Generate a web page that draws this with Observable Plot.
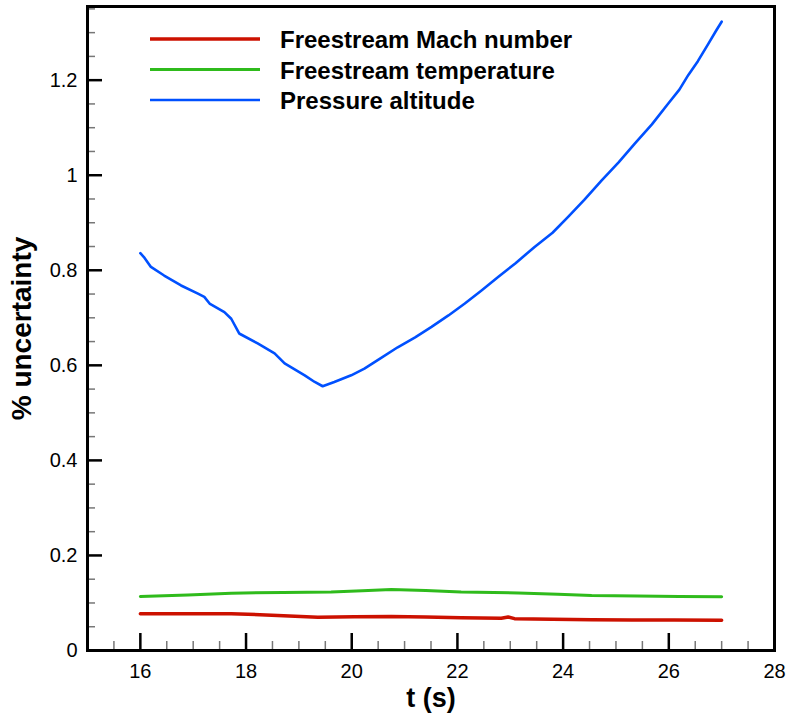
<!DOCTYPE html>
<html>
<head>
<meta charset="utf-8">
<script src="https://cdn.jsdelivr.net/npm/d3@7"></script>
<script src="https://cdn.jsdelivr.net/npm/@observablehq/plot@0.6"></script>
<style>
  body { margin: 0; background: #fff; }
  #chart svg { font-family: "Liberation Sans", Arial, Helvetica, sans-serif; }
  #chart g[aria-label="x-axis label"] { font-size: 27px; font-weight: bold; }
  #chart g[aria-label="y-axis label"] { font-size: 28px; font-weight: bold; }
</style>
</head>
<body>
<div id="chart"></div>
<script>
// Time axis (s) and percent uncertainty for each contributing source
const tMach = [16.0, 16.9, 17.72, 18.6, 19.36, 20.05, 20.75, 21.4, 22.07, 22.83, 22.96, 23.08, 23.8, 24.54, 25.3, 26.1, 27.0];
const uMach = [0.0775, 0.0772, 0.0775, 0.0738, 0.0700, 0.0708, 0.0716, 0.0703, 0.0690, 0.0680, 0.0706, 0.0670, 0.0660, 0.0648, 0.0642, 0.0640, 0.0636];

const tTemp = [16.0, 16.9, 17.72, 18.7, 19.61, 20.2, 20.75, 21.4, 22.07, 23.15, 23.9, 24.54, 25.4, 26.2, 27.0];
const uTemp = [0.1137, 0.1168, 0.1207, 0.1220, 0.1230, 0.1255, 0.1284, 0.1262, 0.1230, 0.1210, 0.1185, 0.1157, 0.1145, 0.1138, 0.1130];

const tAlt = [16.0, 16.08, 16.2, 16.45, 16.77, 17.09, 17.21, 17.31, 17.59, 17.72, 17.87, 18.22, 18.54, 18.73,
  19.11, 19.30, 19.45, 19.67, 19.99, 20.24, 20.55, 20.87, 21.2, 21.51, 21.83, 22.14, 22.45, 22.77, 23.1,
  23.46, 23.8, 24.09, 24.4, 24.73, 25.05, 25.36, 25.68, 25.99, 26.2, 26.37, 26.55, 26.75, 26.9, 27.0];
const uAlt = [0.836, 0.826, 0.807, 0.789, 0.768, 0.751, 0.744, 0.730, 0.712, 0.698, 0.667, 0.646, 0.625, 0.604,
  0.579, 0.565, 0.556, 0.565, 0.579, 0.593, 0.615, 0.638, 0.659, 0.681, 0.705, 0.730, 0.757, 0.786, 0.815,
  0.849, 0.879, 0.912, 0.948, 0.989, 1.027, 1.067, 1.107, 1.151, 1.180, 1.211, 1.240, 1.277, 1.305, 1.323];

const seriesNames = ["Freestream Mach number", "Freestream temperature", "Pressure altitude"];
const seriesColors = ["#cc1100", "#2fbb1c", "#0050ff"];
const seriesWidths = [3.5, 3, 2.6];

const xTicks = [16, 18, 20, 22, 24, 26, 28];
const yTicks = [0, 0.2, 0.4, 0.6, 0.8, 1, 1.2];

const toRows = (ts, us) => ts.map((t, i) => ({t, u: us[i]}));
const series = [toRows(tMach, uMach), toRows(tTemp, uTemp), toRows(tAlt, uAlt)];

const W = 789, H = 715, mL = 87, mR = 15, mT = 6, mB = 65;
const plotW = W - mL - mR, plotH = H - mT - mB;

// minor ticks every 0.5 s and every 0.05 %
const xMinor = d3.range(31, 56).map(k => k / 2).filter(v => v % 2 !== 0);
const yMinor = d3.range(1, 28).map(k => k / 20).filter(v => Math.abs(v * 5 - Math.round(v * 5)) > 1e-9);

const chart = Plot.plot({
  width: W, height: H,
  marginLeft: mL, marginRight: mR, marginTop: mT, marginBottom: mB,
  x: {domain: [15, 28], labelArrow: "none"},
  y: {domain: [0, 1.355], labelArrow: "none"},
  style: {fontSize: "20px", color: "black", background: "white"},
  marks: [
    ...series.map((rows, i) => Plot.line(rows, {
      x: "t", y: "u", stroke: seriesColors[i], strokeWidth: seriesWidths[i],
      strokeLinejoin: "round", strokeLinecap: "round"
    })),
    // inward-pointing ticks
    Plot.tickX(xMinor, {x: d => d, insetTop: plotH - 9, stroke: "#777", strokeWidth: 1.5}),
    Plot.tickX(xTicks, {x: d => d, insetTop: plotH - 17, stroke: "black", strokeWidth: 2.5}),
    Plot.tickY(yMinor, {y: d => d, insetRight: plotW - 8, stroke: "#777", strokeWidth: 1.5}),
    Plot.tickY(yTicks.filter(d => d > 0), {y: d => d, insetRight: plotW - 15, stroke: "black", strokeWidth: 2.5}),
    Plot.axisX({ticks: xTicks, tickSize: 0, tickPadding: 13, tickFormat: d => String(d),
      label: "t (s)", labelAnchor: "center", labelOffset: 56, labelArrow: "none"}),
    Plot.axisY({ticks: yTicks, tickSize: 0, tickPadding: 10, tickFormat: d => String(d),
      label: "% uncertainty", labelAnchor: "center", labelOffset: 76, labelArrow: "none"}),
    Plot.frame({stroke: "black", strokeWidth: 3})
  ]
});

document.getElementById("chart").appendChild(chart);

// legend inside the upper-left of the plot area
const svg = d3.select(chart);
const lg = svg.append("g").attr("class", "legend").attr("text-anchor", "start");
seriesNames.forEach((name, i) => {
  const yLine = 39 + i * 30.5;
  lg.append("line")
    .attr("x1", mL + 63).attr("x2", mL + 173)
    .attr("y1", yLine).attr("y2", yLine)
    .attr("stroke", seriesColors[i]).attr("stroke-width", seriesWidths[i]);
  lg.append("text")
    .attr("x", mL + 193).attr("y", yLine + 9)
    .attr("text-anchor", "start")
    .attr("font-size", 24).attr("font-weight", "bold").attr("fill", "black")
    .text(name);
});
</script>
</body>
</html>
